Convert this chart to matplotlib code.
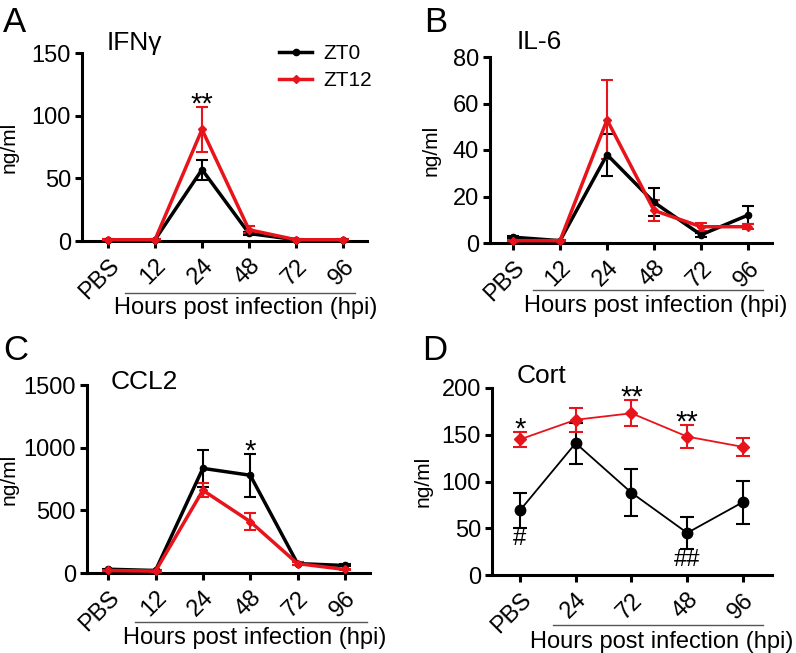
import matplotlib
matplotlib.use("Agg")
import matplotlib.pyplot as plt

plt.rcParams['font.family'] = ['Liberation Sans', 'DejaVu Sans']

# x categories
hours_abc = ['PBS', '12', '24', '48', '72', '96']
hours_d = ['PBS', '24', '72', '48', '96']

# A - IFNg
ifng_zt0 = [1, 1, 57, 6, 1, 1]
ifng_zt0_err = [0.5, 0.5, 8, 1.5, 0.5, 0.5]
ifng_zt12 = [1, 1, 89, 9, 1, 1]
ifng_zt12_err = [0.5, 0.5, 18, 3, 0.5, 0.5]

# B - IL-6
il6_zt0 = [2.5, 1, 38, 17.5, 3.5, 12]
il6_zt0_err = [0.5, 0.3, 9, 6, 1, 3.8]
il6_zt12 = [1, 1, 53, 14, 7, 7]
il6_zt12_err = [0.3, 0.3, 17, 4.5, 1.8, 1]

# C - CCL2
ccl2_zt0 = [30, 20, 835, 780, 75, 60]
ccl2_zt0_err = [5, 5, 150, 170, 10, 8]
ccl2_zt12 = [20, 15, 660, 410, 75, 28]
ccl2_zt12_err = [5, 5, 55, 65, 10, 5]

# D - corticosterone
cort_zt0 = [69, 141, 88, 45, 78]
cort_zt0_err = [19, 22, 25, 17.5, 23]
cort_zt12 = [145, 166, 173, 148, 137]
cort_zt12_err = [8, 13, 14, 12, 10]

W, H = 796, 653
fig = plt.figure(figsize=(W / 100, H / 100), dpi=100)
RED = '#e8141b'


def box(l, t, r, b):
    return [l / W, 1 - b / H, (r - l) / W, (b - t) / H]


def fx(x):
    return x / W


def fy(y):
    return 1 - y / H


def errline(ax, y, err, color, lw, marker, ms, cap):
    x = list(range(len(y)))
    c = ax.errorbar(x, y, yerr=err, color=color, lw=lw, marker=marker, ms=ms,
                    capsize=cap, capthick=1.5, elinewidth=1.5, zorder=3)
    for a in [c.lines[0], *c.lines[1], *c.lines[2]]:
        a.set_clip_on(False)
    return c


def style_axes(ax, labels, xlim, ylim, yticks):
    ax.set_xlim(*xlim)
    ax.set_ylim(*ylim)
    ax.set_yticks(yticks)
    ax.set_xticks(range(len(labels)))
    ax.set_xticklabels(labels)
    for s in ['top', 'right']:
        ax.spines[s].set_visible(False)
    for s in ['left', 'bottom']:
        ax.spines[s].set_linewidth(2.2)
    ax.tick_params(direction='out', length=5, width=2.2, labelsize=17, pad=3)
    ax.tick_params(axis='x', pad=5)
    plt.setp(ax.get_xticklabels(), rotation=45, ha='right', va='top',
             rotation_mode='anchor')
    ax.set_facecolor('none')


def hpi_label(x0, x1, yline, xc, ytext):
    fig.add_artist(plt.Line2D([fx(x0), fx(x1)], [fy(yline), fy(yline)],
                              color='#555555', lw=1))
    fig.text(fx(xc), fy(ytext), 'Hours post infection (hpi)', fontsize=17,
             ha='center', va='center')


def star(ax, text, x, y, up=True):
    if up:
        ax.annotate(text, xy=(x, y), xytext=(0, -4), textcoords='offset points',
                    ha='center', va='baseline', fontsize=21, annotation_clip=False)
    else:
        ax.annotate(text, xy=(x, y), xytext=(0, 0), textcoords='offset points',
                    ha='center', va='top', fontsize=17, annotation_clip=False)


# panel A
axA = fig.add_axes(box(82, 53, 367, 241))
l0 = errline(axA, ifng_zt0, ifng_zt0_err, 'black', 2.5, 'o', 4.5, 4)
l1 = errline(axA, ifng_zt12, ifng_zt12_err, RED, 2.5, 'D', 4, 4)
style_axes(axA, hours_abc, (-0.553, 5.51), (0, 150), [0, 50, 100, 150])
star(axA, '**', 2, ifng_zt12[2] + ifng_zt12_err[2])
axA.legend([l0.lines[0], l1.lines[0]], ['ZT0', 'ZT12'], loc='upper left',
           bbox_to_anchor=(fx(279), fy(44)), bbox_transform=fig.transFigure,
           frameon=False, fontsize=15, handlelength=1.6, handletextpad=0.55,
           borderpad=0, borderaxespad=0, labelspacing=0.4, numpoints=1)

# panel B
axB = fig.add_axes(box(490, 57, 772, 243))
errline(axB, il6_zt0, il6_zt0_err, 'black', 2.5, 'o', 4.5, 4)
errline(axB, il6_zt12, il6_zt12_err, RED, 2.5, 'D', 4, 4)
style_axes(axB, hours_abc, (-0.49, 5.51), (0, 80), [0, 20, 40, 60, 80])

# panel C
axC = fig.add_axes(box(87, 385, 370, 573))
errline(axC, ccl2_zt0, ccl2_zt0_err, 'black', 2.5, 'o', 4.5, 4)
errline(axC, ccl2_zt12, ccl2_zt12_err, RED, 2.5, 'D', 4, 4)
style_axes(axC, hours_abc, (-0.447, 5.53), (0, 1500), [0, 500, 1000, 1500])
star(axC, '*', 3, ccl2_zt0[3] + ccl2_zt0_err[3])

# panel D
axD = fig.add_axes(box(492, 388, 772, 575))
errline(axD, cort_zt0, cort_zt0_err, 'black', 1.3, 'o', 7.5, 5)
errline(axD, cort_zt12, cort_zt12_err, RED, 1.3, 'D', 6.5, 5)
style_axes(axD, hours_d, (-0.5, 4.52), (0, 200), [0, 50, 100, 150, 200])
for i, s in [(0, '*'), (2, '**'), (3, '**')]:
    star(axD, s, i, cort_zt12[i] + cort_zt12_err[i])
for i, s in [(0, '#'), (3, '##')]:
    star(axD, s, i, cort_zt0[i] - cort_zt0_err[i], up=False)

# y labels (x is the right edge of the rotated label)
for ax, xpx in [(axA, 19), (axB, 441), (axC, 19), (axD, 433)]:
    ax.set_ylabel('ng/ml', fontsize=15)
    pos = ax.get_position()
    ax.yaxis.set_label_coords(fx(xpx), pos.y0 + pos.height / 2,
                              transform=fig.transFigure)

# panel letters and titles
for letter, xpx, ypx in [('A', 3, 22), ('B', 424, 22), ('C', 3, 350), ('D', 422, 350)]:
    fig.text(fx(xpx), fy(ypx), letter, fontsize=25, ha='left', va='center')
for title, xpx, ypx in [('IFNγ', 107, 43), ('IL-6', 517, 42), ('CCL2', 111, 382),
                        ('Cort', 517, 376)]:
    fig.text(fx(xpx), fy(ypx), title, fontsize=19, ha='left', va='center')

hpi_label(125, 355, 293, 246, 308)
hpi_label(533, 763, 290, 656, 306)
hpi_label(135, 367, 622, 255, 638)
hpi_label(553, 763, 625, 662, 642)

fig.savefig('out.png', dpi=100)
